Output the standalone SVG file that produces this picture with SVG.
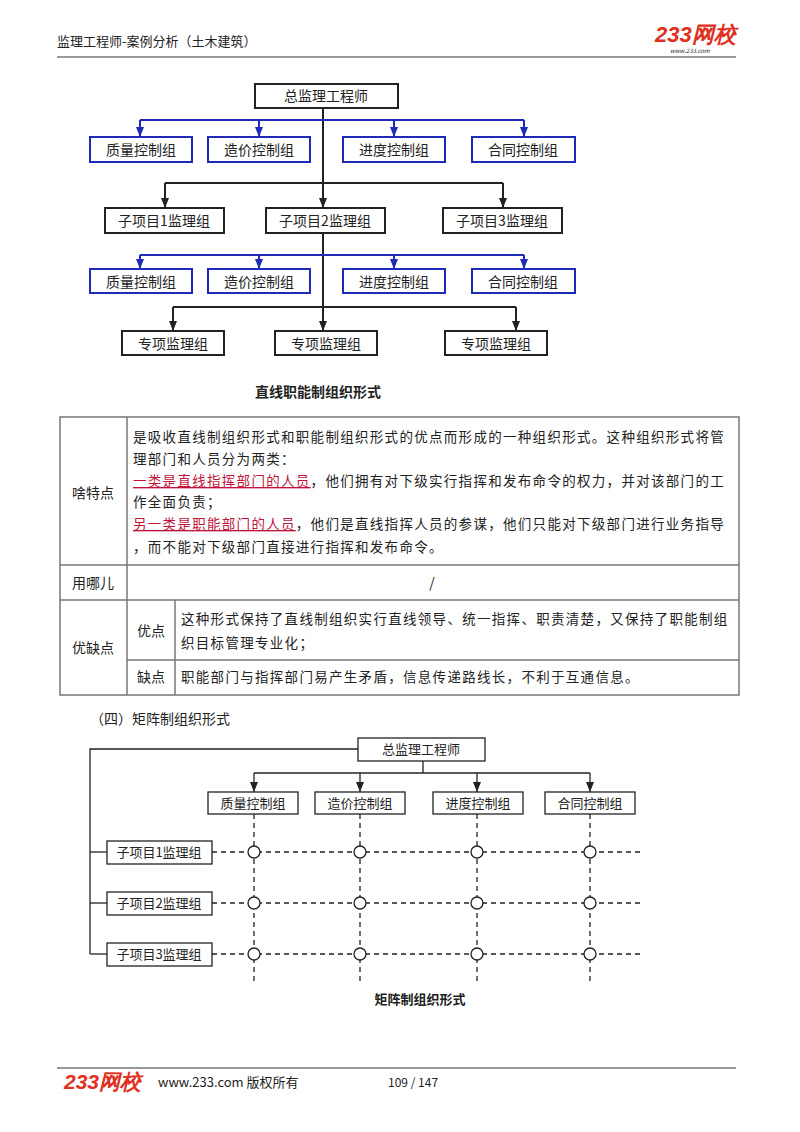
<svg xmlns="http://www.w3.org/2000/svg" width="800" height="1132" viewBox="0 0 800 1132">
<style>
text{font-family:"Noto Sans CJK SC","Liberation Sans",sans-serif;fill:#222}
.bb{fill:#fff;stroke:#222;stroke-width:2}
.blb{fill:#fff;stroke:#1e2bb8;stroke-width:2}
.t{font-size:14px;text-anchor:middle}
.bl{stroke:#1e2bb8;stroke-width:2;fill:none}
.k{stroke:#222;stroke-width:2;fill:none}
.k1{stroke:#222;stroke-width:1.3;fill:none}
.d{stroke:#222;stroke-width:1.3;fill:none;stroke-dasharray:5 4}
.tb{font-size:13.5px;letter-spacing:1.3px}
.red{fill:#c0143c;text-decoration:underline}
.g{stroke:#777;stroke-width:1.5;fill:none}
.logo{font-family:"Liberation Sans",sans-serif;font-weight:bold;font-style:italic;fill:#e0301e}
.mb{fill:#fff;stroke:#222;stroke-width:1.3}
.c{fill:#fff;stroke:#222;stroke-width:1.3}
</style>
<defs>
<marker id="ak" markerWidth="10" markerHeight="8" refX="10" refY="4" orient="auto" markerUnits="userSpaceOnUse" viewBox="0 0 10 8"><path d="M0,0 L10,4 L0,8 z" fill="#222"/></marker>
<marker id="abl" markerWidth="10" markerHeight="8" refX="10" refY="4" orient="auto" markerUnits="userSpaceOnUse" viewBox="0 0 10 8"><path d="M0,0 L10,4 L0,8 z" fill="#1e2bb8"/></marker>
</defs>
<!-- header -->
<text x="57" y="46" font-size="13">监理工程师-案例分析（土木建筑）</text>
<text class="logo" x="655" y="42" font-size="22">233网校</text>
<text x="670" y="53" font-size="6" font-family="Liberation Sans" font-style="italic" fill="#555">www.233.com</text>
<line class="g" x1="57" y1="57" x2="736" y2="57"/>

<!-- chart 1 connectors -->
<g id="connectors1">
<line class="k" x1="323" y1="108" x2="323" y2="331" marker-end="url(#ak)"/>
<line class="bl" x1="140" y1="120" x2="524" y2="120"/>
<line class="bl" x1="140" y1="120" x2="140" y2="137" marker-end="url(#abl)"/>
<line class="bl" x1="259" y1="120" x2="259" y2="137" marker-end="url(#abl)"/>
<line class="bl" x1="394" y1="120" x2="394" y2="137" marker-end="url(#abl)"/>
<line class="bl" x1="524" y1="120" x2="524" y2="137" marker-end="url(#abl)"/>
<line class="k" x1="165" y1="183" x2="503" y2="183"/>
<line class="k" x1="165" y1="183" x2="165" y2="208" marker-end="url(#ak)"/>
<line class="k" x1="503" y1="183" x2="503" y2="208" marker-end="url(#ak)"/>
<line class="k" x1="323" y1="183" x2="323" y2="208" marker-end="url(#ak)"/>
<line class="bl" x1="140" y1="255" x2="524" y2="255"/>
<line class="bl" x1="140" y1="255" x2="140" y2="269" marker-end="url(#abl)"/>
<line class="bl" x1="259" y1="255" x2="259" y2="269" marker-end="url(#abl)"/>
<line class="bl" x1="394" y1="255" x2="394" y2="269" marker-end="url(#abl)"/>
<line class="bl" x1="524" y1="255" x2="524" y2="269" marker-end="url(#abl)"/>
<line class="k" x1="173" y1="307" x2="516" y2="307"/>
<line class="k" x1="173" y1="307" x2="173" y2="331" marker-end="url(#ak)"/>
<line class="k" x1="516" y1="307" x2="516" y2="331" marker-end="url(#ak)"/>
</g>
<g id="n-zj"><rect class="bb" x="255" y="84" width="143" height="24"/><text class="t" x="326" y="101">总监理工程师</text></g>
<g id="n-a1"><rect class="blb" x="90" y="137" width="102" height="25"/><text class="t" x="141" y="155">质量控制组</text></g>
<g id="n-a2"><rect class="blb" x="208" y="137" width="102" height="25"/><text class="t" x="259" y="155">造价控制组</text></g>
<g id="n-a3"><rect class="blb" x="343" y="137" width="102" height="25"/><text class="t" x="394" y="155">进度控制组</text></g>
<g id="n-a4"><rect class="blb" x="472" y="137" width="103" height="25"/><text class="t" x="523" y="155">合同控制组</text></g>
<g id="n-s1"><rect class="bb" x="105" y="208" width="119" height="25"/><text class="t" x="164" y="226">子项目1监理组</text></g>
<g id="n-s2"><rect class="bb" x="266" y="208" width="119" height="25"/><text class="t" x="325" y="226">子项目2监理组</text></g>
<g id="n-s3"><rect class="bb" x="443" y="208" width="119" height="25"/><text class="t" x="502" y="226">子项目3监理组</text></g>
<g id="n-b1"><rect class="blb" x="90" y="269" width="102" height="24"/><text class="t" x="141" y="287">质量控制组</text></g>
<g id="n-b2"><rect class="blb" x="208" y="269" width="102" height="24"/><text class="t" x="259" y="287">造价控制组</text></g>
<g id="n-b3"><rect class="blb" x="343" y="269" width="102" height="24"/><text class="t" x="394" y="287">进度控制组</text></g>
<g id="n-b4"><rect class="blb" x="472" y="269" width="103" height="24"/><text class="t" x="523" y="287">合同控制组</text></g>
<g id="n-z1"><rect class="bb" x="122" y="331" width="102" height="24"/><text class="t" x="173" y="349">专项监理组</text></g>
<g id="n-z2"><rect class="bb" x="275" y="331" width="102" height="24"/><text class="t" x="326" y="349">专项监理组</text></g>
<g id="n-z3"><rect class="bb" x="445" y="331" width="102" height="24"/><text class="t" x="496" y="349">专项监理组</text></g>
<text x="318" y="397" font-size="14" font-weight="bold" text-anchor="middle">直线职能制组织形式</text>

<!-- table -->
<g id="table">
<rect x="60" y="417" width="679" height="278" fill="none" stroke="#777" stroke-width="1.5"/>
<line class="g" x1="127" y1="417" x2="127" y2="695"/>
<line class="g" x1="60" y1="565" x2="739" y2="565"/>
<line class="g" x1="60" y1="600" x2="739" y2="600"/>
<line class="g" x1="175" y1="600" x2="175" y2="695"/>
<line class="g" x1="127" y1="660" x2="739" y2="660"/>
<text x="93" y="498" font-size="14" text-anchor="middle">啥特点</text>
<text x="93" y="588" font-size="14" text-anchor="middle">用哪儿</text>
<text x="93" y="653" font-size="14" text-anchor="middle">优缺点</text>
<text x="151" y="636" font-size="14" text-anchor="middle">优点</text>
<text x="151" y="682" font-size="14" text-anchor="middle">缺点</text>
<text class="tb" x="133" y="442">是吸收直线制组织形式和职能制组织形式的优点而形成的一种组织形式。这种组织形式将管</text>
<text class="tb" x="133" y="464">理部门和人员分为两类：</text>
<text class="tb" x="133" y="486"><tspan class="red">一类是直线指挥部门的人员</tspan>，他们拥有对下级实行指挥和发布命令的权力，并对该部门的工</text>
<text class="tb" x="133" y="507">作全面负责；</text>
<text class="tb" x="133" y="529"><tspan class="red">另一类是职能部门的人员</tspan>，他们是直线指挥人员的参谋，他们只能对下级部门进行业务指导</text>
<text class="tb" x="133" y="552">，而不能对下级部门直接进行指挥和发布命令。</text>
<text x="432" y="588" font-size="14" text-anchor="middle">/</text>
<text class="tb" x="181" y="624">这种形式保持了直线制组织实行直线领导、统一指挥、职责清楚，又保持了职能制组</text>
<text class="tb" x="181" y="648">织目标管理专业化；</text>
<text class="tb" x="181" y="682">职能部门与指挥部门易产生矛盾，信息传递路线长，不利于互通信息。</text>
</g>
<text x="90" y="724" font-size="14">（四）矩阵制组织形式</text>

<!-- matrix -->
<g id="connectors2">
<polyline class="k1" points="358,749 90,749 90,954"/>
<line class="k1" x1="90" y1="852" x2="107" y2="852"/>
<line class="k1" x1="90" y1="903" x2="107" y2="903"/>
<line class="k1" x1="90" y1="954" x2="107" y2="954"/>
<polyline class="k1" points="423,761 423,773"/>
<line class="k1" x1="254" y1="773" x2="590" y2="773"/>
<line class="k1" x1="254" y1="773" x2="254" y2="792" marker-end="url(#ak)"/>
<line class="k1" x1="360" y1="773" x2="360" y2="792" marker-end="url(#ak)"/>
<line class="k1" x1="477" y1="773" x2="477" y2="792" marker-end="url(#ak)"/>
<line class="k1" x1="590" y1="773" x2="590" y2="792" marker-end="url(#ak)"/>
<line class="d" x1="254" y1="814" x2="254" y2="984"/>
<line class="d" x1="360" y1="814" x2="360" y2="984"/>
<line class="d" x1="477" y1="814" x2="477" y2="984"/>
<line class="d" x1="590" y1="814" x2="590" y2="984"/>
<line class="d" x1="212" y1="852" x2="640" y2="852"/>
<line class="d" x1="212" y1="903" x2="640" y2="903"/>
<line class="d" x1="212" y1="954" x2="640" y2="954"/>
<g>
<circle class="c" cx="254" cy="852" r="6"/><circle class="c" cx="360" cy="852" r="6"/><circle class="c" cx="477" cy="852" r="6"/><circle class="c" cx="590" cy="852" r="6"/>
<circle class="c" cx="254" cy="903" r="6"/><circle class="c" cx="360" cy="903" r="6"/><circle class="c" cx="477" cy="903" r="6"/><circle class="c" cx="590" cy="903" r="6"/>
<circle class="c" cx="254" cy="954" r="6"/><circle class="c" cx="360" cy="954" r="6"/><circle class="c" cx="477" cy="954" r="6"/><circle class="c" cx="590" cy="954" r="6"/>
</g>
</g>
<g id="m-zj"><rect class="mb" x="358" y="738" width="127" height="23"/><text x="421" y="754" font-size="13" text-anchor="middle">总监理工程师</text></g>
<g id="m-a1"><rect class="mb" x="208" y="792" width="90" height="22"/><text x="253" y="808" font-size="13" text-anchor="middle">质量控制组</text></g>
<g id="m-a2"><rect class="mb" x="315" y="792" width="90" height="22"/><text x="360" y="808" font-size="13" text-anchor="middle">造价控制组</text></g>
<g id="m-a3"><rect class="mb" x="433" y="792" width="90" height="22"/><text x="478" y="808" font-size="13" text-anchor="middle">进度控制组</text></g>
<g id="m-a4"><rect class="mb" x="545" y="792" width="90" height="22"/><text x="590" y="808" font-size="13" text-anchor="middle">合同控制组</text></g>
<g id="m-s1"><rect class="mb" x="107" y="841" width="105" height="23"/><text x="159" y="857" font-size="13" text-anchor="middle">子项目1监理组</text></g>
<g id="m-s2"><rect class="mb" x="107" y="892" width="105" height="23"/><text x="159" y="908" font-size="13" text-anchor="middle">子项目2监理组</text></g>
<g id="m-s3"><rect class="mb" x="107" y="943" width="105" height="23"/><text x="159" y="959" font-size="13" text-anchor="middle">子项目3监理组</text></g>
<text x="420" y="1004" font-size="13" font-weight="bold" text-anchor="middle">矩阵制组织形式</text>

<!-- footer -->
<line class="g" x1="57" y1="1068" x2="736" y2="1068"/>
<text class="logo" x="64" y="1089" font-size="21">233网校</text>
<text x="158" y="1087" font-size="13" font-family="Liberation Serif,Noto Sans CJK SC,serif" fill="#333">www.233.com 版权所有</text>
<text x="388" y="1087" font-size="12" font-family="Liberation Serif,serif" fill="#555">109 / 147</text>
</svg>
